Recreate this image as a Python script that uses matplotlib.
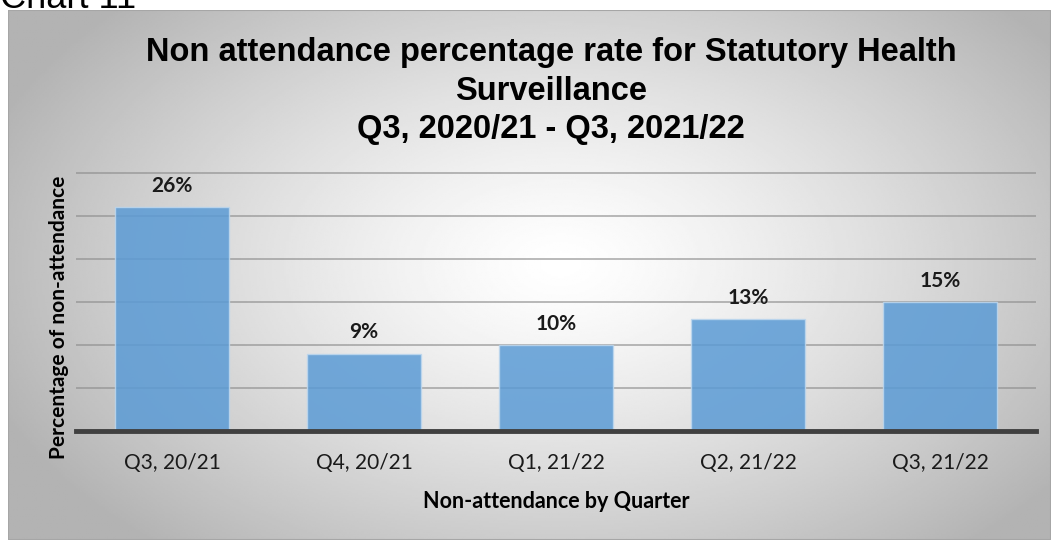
import numpy as np
import matplotlib.pyplot as plt
from matplotlib.patches import Rectangle

quarters = ["Q3, 20/21", "Q4, 20/21", "Q1, 21/22", "Q2, 21/22", "Q3, 21/22"]
rates = [26, 9, 10, 13, 15]
labels = ["26%", "9%", "10%", "13%", "15%"]

W, H = 1051, 540
fig = plt.figure(figsize=(W / 100, H / 100), dpi=100)
fig.patch.set_facecolor("white")

# chart area background: radial gradient white -> grey
bg = fig.add_axes([8 / W, 0, 1 - 8 / W, 1 - 10 / H])
yy, xx = np.mgrid[0:1:300j, 0:1:500j]
r = np.sqrt(((xx - 0.53) / 0.62) ** 2 + ((yy - 0.48) / 0.75) ** 2)
grad = np.clip(1 - 0.32 * r ** 1.3, 0.7, 1.0)
bg.imshow(grad, cmap="gray", vmin=0, vmax=1, aspect="auto", extent=[0, 1, 0, 1])
bg.add_patch(Rectangle((0, 0), 1, 1, fill=False, edgecolor="#a6a6a6", lw=1.5))
bg.set_axis_off()

# caption above the chart, cut off by the top edge like the original
fig.text(0.0, 1 - 8 / H, "Chart 11", fontsize=26, family="Liberation Sans",
         va="baseline", ha="left", color="black")

ax = fig.add_axes([76 / W, 1 - 431 / H, 960 / W, (431 - 160) / H])
ax.set_facecolor("none")
x = np.arange(len(quarters))
ax.bar(x, rates, width=0.595, color="#5b9bd5", alpha=0.85,
       edgecolor="#bdd7ee", linewidth=1, zorder=3)
ax.set_xlim(-0.5, len(quarters) - 0.5)
ax.set_ylim(0, 30 * (431 - 160) / (431 - 173))
ax.set_yticks([5, 10, 15, 20, 25, 30])
ax.yaxis.grid(True, color="#8c8c8c", lw=1.2, zorder=4, alpha=0.7)
ax.tick_params(axis="y", left=False, labelleft=False)
ax.tick_params(axis="x", length=0, pad=16)
ax.set_xticks(x)
ax.set_xticklabels(quarters, fontsize=15, family="Lato", color="#1a1a1a")
for s in ["top", "right", "left"]:
    ax.spines[s].set_visible(False)
ax.spines["bottom"].set_color("#404040")
ax.spines["bottom"].set_linewidth(3.5)
ax.spines["bottom"].set_zorder(5)

for xi, v, lab in zip(x, rates, labels):
    ax.annotate(lab, (xi, v), xytext=(0, 11), textcoords="offset points",
                ha="center", va="baseline", fontsize=15, fontweight="bold",
                family="Lato", color="#1a1a1a")

fig.text(556 / W, 1 - 502 / H, "Non-attendance by Quarter", fontsize=15.5,
         fontweight="bold", family="Lato", ha="center", va="center")
fig.text(59 / W, 1 - 317 / H, "Percentage of non-attendance", rotation=90,
         fontsize=15, fontweight="bold", family="Lato", ha="center", va="center")

fig.text(551 / W, 1 - 91 / H,
         "Non attendance percentage rate for Statutory Health\nSurveillance\nQ3, 2020/21 - Q3, 2021/22",
         fontsize=23.5, fontweight="bold", family="Liberation Sans",
         ha="center", va="center", linespacing=1.3)

fig.savefig("out.png", dpi=100)
